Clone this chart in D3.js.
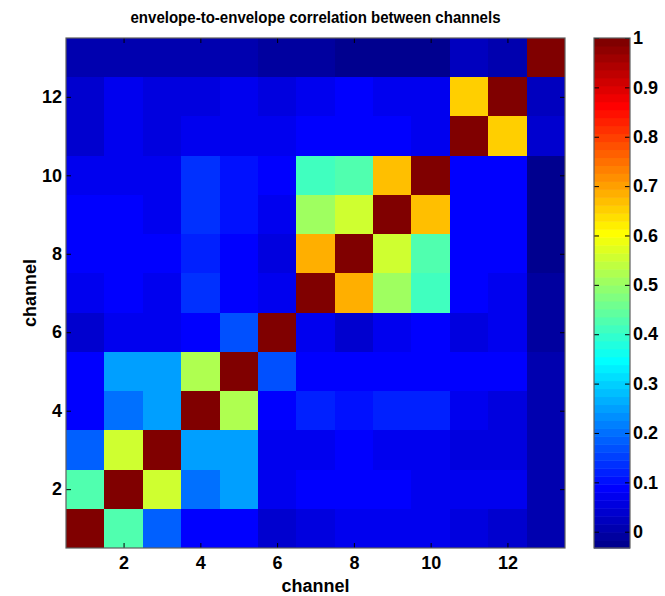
<!DOCTYPE html>
<html><head><meta charset="utf-8">
<script src="https://cdn.jsdelivr.net/npm/d3@7"></script>
<style>
html,body{margin:0;padding:0;background:#fff;}
svg{display:block;}
text{font-family:"Liberation Sans",Arial,Helvetica,sans-serif;font-weight:bold;fill:#000;}
</style>
</head><body>
<svg id="chart" width="665" height="596"></svg>
<script>
// ---- data: correlation rows, chN = row for channel N, columns channel 1..13 ----
const channels = [1,2,3,4,5,6,7,8,9,10,11,12,13];
const ch1  = [1.0, 0.427, 0.184, 0.088, 0.088, 0.045, 0.056, 0.065, 0.065, 0.065, 0.056, 0.045, 0.007];
const ch2  = [0.427, 1.0, 0.556, 0.2, 0.25, 0.065, 0.088, 0.088, 0.088, 0.072, 0.072, 0.072, 0.007];
const ch3  = [0.184, 0.556, 1.0, 0.25, 0.25, 0.065, 0.065, 0.088, 0.065, 0.065, 0.056, 0.056, 0.0];
const ch4  = [0.088, 0.2, 0.25, 1.0, 0.523, 0.088, 0.12, 0.112, 0.128, 0.128, 0.072, 0.056, 0.0];
const ch5  = [0.088, 0.25, 0.25, 0.523, 1.0, 0.168, 0.088, 0.088, 0.096, 0.096, 0.08, 0.08, 0.0];
const ch6  = [0.045, 0.065, 0.065, 0.088, 0.168, 1.0, 0.072, 0.045, 0.065, 0.088, 0.056, 0.065, -0.009];
const ch7  = [0.072, 0.088, 0.072, 0.136, 0.088, 0.072, 1.0, 0.685, 0.507, 0.411, 0.088, 0.072, -0.009];
const ch8  = [0.08, 0.088, 0.088, 0.12, 0.096, 0.056, 0.685, 1.0, 0.556, 0.427, 0.088, 0.088, -0.03];
const ch9  = [0.08, 0.088, 0.072, 0.136, 0.112, 0.072, 0.507, 0.556, 1.0, 0.675, 0.088, 0.08, -0.033];
const ch10 = [0.072, 0.072, 0.072, 0.136, 0.104, 0.088, 0.411, 0.427, 0.675, 1.0, 0.08, 0.08, -0.03];
const ch11 = [0.045, 0.065, 0.056, 0.072, 0.072, 0.065, 0.088, 0.088, 0.088, 0.072, 1.0, 0.655, 0.035];
const ch12 = [0.04, 0.072, 0.056, 0.056, 0.072, 0.056, 0.072, 0.088, 0.072, 0.078, 0.655, 1.0, 0.023];
const ch13 = [0.007, 0.007, 0.007, 0.005, 0.0, -0.009, -0.009, -0.018, -0.033, -0.033, 0.023, 0.015, 1.0];
const corrRows = [ch1, ch2, ch3, ch4, ch5, ch6, ch7, ch8, ch9, ch10, ch11, ch12, ch13];

const axisTicks = [2, 4, 6, 8, 10, 12];
const colorbarTicks = [0, 0.1, 0.2, 0.3, 0.4, 0.5, 0.6, 0.7, 0.8, 0.9, 1];
const colorbarTickLabels = ["0", "0.1", "0.2", "0.3", "0.4", "0.5", "0.6", "0.7", "0.8", "0.9", "1"];
const titleText = "envelope-to-envelope correlation between channels";
const xLabelText = "channel";
const yLabelText = "channel";

// ---- MATLAB jet(64) colormap ----
function jet(n) {
  const m = Math.ceil(n / 4);
  const u = [];
  for (let k = 1; k <= m; k++) u.push(k / m);
  for (let k = 1; k < m; k++) u.push(1);
  for (let k = m; k >= 1; k--) u.push(k / m);
  const g0 = Math.ceil(m / 2) - (n % 4 === 1 ? 1 : 0);
  const f = k => (k >= 1 && k <= u.length) ? u[k - 1] : 0;
  const out = [];
  for (let i = 1; i <= n; i++) {
    out.push(d3.rgb(255 * f(i - g0 - m), 255 * f(i - g0), 255 * f(i - g0 + m)).formatHex());
  }
  return out;
}
const jetColors = jet(64);

const svg = d3.select("#chart");
const plot = {left: 66, right: 565, top: 38, bottom: 548};
const cbar = {left: 594, right: 630, top: 38, bottom: 548};

const x = d3.scaleLinear().domain([0.5, 13.5]).range([plot.left, plot.right]);
const y = d3.scaleLinear().domain([0.5, 13.5]).range([plot.bottom, plot.top]);

const allVals = corrRows.flat();
const cmin = d3.min(allVals), cmax = d3.max(allVals);
const color = d3.scaleQuantize().domain([cmin, cmax]).range(jetColors);

const cells = [];
corrRows.forEach((row, i) => row.forEach((v, j) => cells.push({r: channels[i], c: channels[j], v})));

svg.append("g").selectAll("rect").data(cells).join("rect")
  .attr("x", d => x(d.c - 0.5))
  .attr("y", d => y(d.r + 0.5))
  .attr("width", d => x(d.c + 0.5) - x(d.c - 0.5))
  .attr("height", d => y(d.r - 0.5) - y(d.r + 0.5))
  .attr("fill", d => color(d.v))
  .attr("shape-rendering", "crispEdges");

const tickFont = "18px";
function styleAxis(g) {
  g.select(".domain").remove();
  g.selectAll(".tick line").attr("stroke", "#000").attr("stroke-width", 1);
  g.selectAll(".tick text").style("font-size", tickFont).attr("fill", "#000");
}

// bottom axis (ticks inward)
svg.append("g").attr("transform", `translate(0,${plot.bottom})`)
  .call(d3.axisBottom(x).tickValues(axisTicks).tickFormat(d3.format("d")).tickSizeInner(-5).tickSizeOuter(0).tickPadding(8))
  .call(styleAxis);
// top axis ticks
svg.append("g").attr("transform", `translate(0,${plot.top})`)
  .call(d3.axisTop(x).tickValues(axisTicks).tickFormat("").tickSizeInner(-5).tickSizeOuter(0))
  .call(styleAxis);
// left axis
svg.append("g").attr("transform", `translate(${plot.left},0)`)
  .call(d3.axisLeft(y).tickValues(axisTicks).tickFormat(d3.format("d")).tickSizeInner(-5).tickSizeOuter(0).tickPadding(4))
  .call(styleAxis);
// right axis ticks
svg.append("g").attr("transform", `translate(${plot.right},0)`)
  .call(d3.axisRight(y).tickValues(axisTicks).tickFormat("").tickSizeInner(-5).tickSizeOuter(0))
  .call(styleAxis);

svg.append("rect").attr("x", plot.left).attr("y", plot.top)
  .attr("width", plot.right - plot.left).attr("height", plot.bottom - plot.top)
  .attr("fill", "none").attr("stroke", "#5e5e5e").attr("stroke-width", 1.2);

// ---- colorbar ----
const yc = d3.scaleLinear().domain([cmin, cmax]).range([cbar.bottom, cbar.top]);
const step = (cmax - cmin) / jetColors.length;
svg.append("g").selectAll("rect").data(jetColors).join("rect")
  .attr("x", cbar.left)
  .attr("width", cbar.right - cbar.left)
  .attr("y", (d, i) => yc(cmin + (i + 1) * step))
  .attr("height", (d, i) => yc(cmin + i * step) - yc(cmin + (i + 1) * step) + 0.5)
  .attr("fill", d => d);

svg.append("g").attr("transform", `translate(${cbar.right},0)`)
  .call(d3.axisRight(yc).tickValues(colorbarTicks).tickFormat((d, i) => colorbarTickLabels[i]).tickSizeInner(-5).tickSizeOuter(0).tickPadding(3))
  .call(styleAxis);
svg.append("g").attr("transform", `translate(${cbar.left},0)`)
  .call(d3.axisLeft(yc).tickValues(colorbarTicks).tickFormat("").tickSizeInner(-5).tickSizeOuter(0))
  .call(styleAxis);
svg.append("rect").attr("x", cbar.left).attr("y", cbar.top)
  .attr("width", cbar.right - cbar.left).attr("height", cbar.bottom - cbar.top)
  .attr("fill", "none").attr("stroke", "#5e5e5e").attr("stroke-width", 1.2);

// ---- labels ----
svg.append("text").attr("x", (plot.left + plot.right) / 2).attr("y", 23)
  .attr("text-anchor", "middle").style("font-size", "16px")
  .attr("textLength", 370).attr("lengthAdjust", "spacingAndGlyphs")
  .text(titleText);
svg.append("text").attr("x", (plot.left + plot.right) / 2).attr("y", 592)
  .attr("text-anchor", "middle").style("font-size", "18px")
  .text(xLabelText);
svg.append("text").attr("transform", `translate(36,${(plot.top + plot.bottom) / 2}) rotate(-90)`)
  .attr("text-anchor", "middle").style("font-size", "18px")
  .text(yLabelText);
</script>
</body></html>
